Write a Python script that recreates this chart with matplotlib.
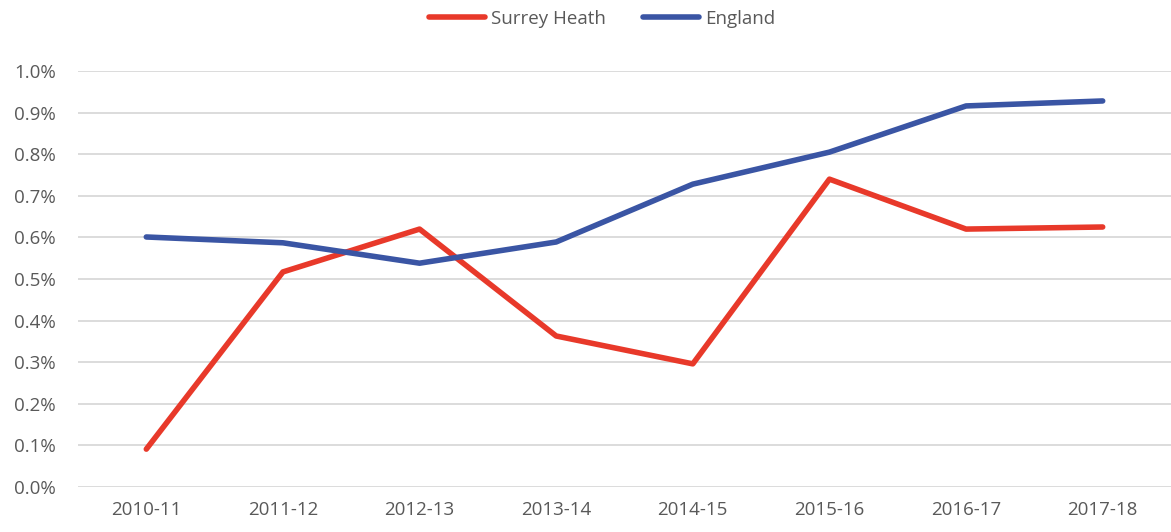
import matplotlib
matplotlib.use("Agg")
import matplotlib.pyplot as plt
from matplotlib.ticker import FuncFormatter, MultipleLocator

categories = ["2010-11", "2011-12", "2012-13", "2013-14", "2014-15", "2015-16", "2016-17", "2017-18"]
surrey_heath = [0.091, 0.517, 0.620, 0.363, 0.296, 0.740, 0.620, 0.625]
england = [0.601, 0.587, 0.538, 0.589, 0.728, 0.805, 0.916, 0.928]

plt.rcParams['font.family'] = ['Open Sans', 'DejaVu Sans']
text_color = "#595959"

fig = plt.figure(figsize=(11.71, 5.32), dpi=100)
ax = fig.add_axes([78/1171, 1-487/532, 1-78/1171, (487-71)/532])

x = [i + 0.5 for i in range(len(categories))]
ax.plot(x, surrey_heath, color="#E8392A", lw=4, solid_capstyle="round", solid_joinstyle="round", label="Surrey Heath")
ax.plot(x, england, color="#3A55A4", lw=4, solid_capstyle="round", solid_joinstyle="round", label="England")

ax.set_xlim(0, len(categories))
ax.set_ylim(0, 1.0)
ax.set_xticks(x)
ax.set_xticklabels(categories)
ax.yaxis.set_major_locator(MultipleLocator(0.1))
ax.yaxis.set_major_formatter(FuncFormatter(lambda v, p: f"{v:.1f}%"))
ax.grid(axis="y", color="#D9D9D9", lw=1.3)
ax.set_axisbelow(True)
for s in ax.spines.values():
    s.set_visible(False)
ax.tick_params(length=0, colors=text_color, labelsize=13.5)
ax.tick_params(axis="y", pad=16)
ax.tick_params(axis="x", pad=10)

leg = fig.legend(loc="center", bbox_to_anchor=(0.514, 1-19/532), ncol=2, frameon=False,
                 fontsize=13.5, handlelength=3.0, columnspacing=2.0, handletextpad=0.3)
for t in leg.get_texts():
    t.set_color(text_color)

fig.savefig("out.png", dpi=100)
